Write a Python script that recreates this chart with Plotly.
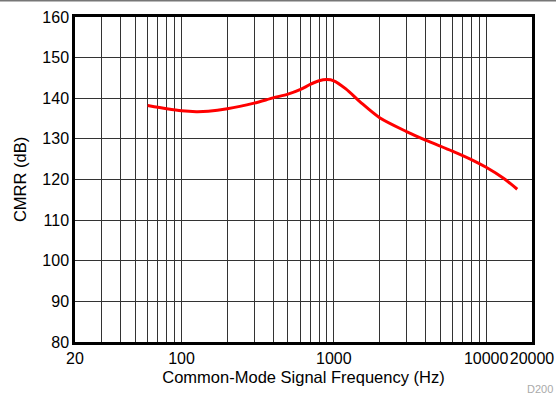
import plotly.graph_objects as go

freq_hz = [60, 80, 100, 125, 150, 200, 300, 400, 500, 600, 700, 800, 900, 1000,
           1200, 1500, 2000, 3000, 4000, 6000, 8000, 10000, 13000, 16000]
cmrr_db = [138.2, 137.4, 136.9, 136.7, 136.8, 137.4, 138.8, 140.1, 141.0, 142.1,
           143.4, 144.3, 144.6, 144.3, 142.3, 139.0, 135.2, 131.8, 129.7, 127.0,
           124.9, 123.0, 120.3, 117.6]

x_tickvals = [20, 100, 1000, 10000, 20000]
x_ticktext = ["20", "100", "1000", "10000", "20000"]
x_gridvals = [20, 30, 40, 50, 60, 70, 80, 90, 100, 200, 300, 400, 500, 600, 700, 800, 900,
              1000, 2000, 3000, 4000, 5000, 6000, 7000, 8000, 9000, 10000, 20000]
y_tickvals = [80, 90, 100, 110, 120, 130, 140, 150, 160]

FONT = "Liberation Sans, Arial, Helvetica, sans-serif"

L, R, T, B = 75, 24, 17, 55
W, H = 556, 397
PW, PH = W - L - R, H - T - B

def px_x(p):
    return (p - L) / PW

def px_y(p):
    return (H - B - p) / PH

fig = go.Figure()
fig.add_trace(go.Scatter(x=freq_hz, y=cmrr_db, mode="lines",
                         line=dict(color="#ff0000", width=3, shape="spline", smoothing=0.8),
                         hoverinfo="skip", showlegend=False))

fig.update_layout(
    width=W, height=H,
    margin=dict(l=L, r=R, t=T, b=B, autoexpand=False),
    paper_bgcolor="white", plot_bgcolor="white",
    font=dict(family=FONT, size=16, color="black"),
    xaxis=dict(type="log", range=[1.30103, 4.30103],
               tickvals=x_gridvals,
               ticktext=[x_ticktext[x_tickvals.index(v)] if v in x_tickvals else "" for v in x_gridvals],
               tickangle=0,
               showgrid=True, gridcolor="#333", gridwidth=1,
               showline=True, linecolor="black", linewidth=2.5, mirror=True,
               ticks="", zeroline=False, automargin=False,
               title=dict(text="Common-Mode Signal Frequency (Hz)", standoff=6,
                          font=dict(size=16.5)),
               tickfont=dict(size=16)),
    yaxis=dict(range=[80, 160], tickvals=y_tickvals,
               showgrid=True, gridcolor="#333", gridwidth=1,
               showline=True, linecolor="black", linewidth=2.5, mirror=True,
               ticks="", zeroline=False, automargin=False,
               title=dict(text="CMRR (dB)", standoff=12, font=dict(size=16.5)),
               tickfont=dict(size=16)),
    shapes=[dict(type="line", xref="paper", yref="paper",
                 x0=px_x(0), x1=px_x(W), y0=px_y(0.75), y1=px_y(0.75),
                 line=dict(color="#777", width=1.5))],
    annotations=[dict(text="D200", xref="paper", yref="paper",
                      x=px_x(555), y=px_y(389), xanchor="right", yanchor="middle",
                      showarrow=False, font=dict(size=11, color="#aaa"))],
)

fig.write_html("out.html", config={"displayModeBar": False},
               post_script="document.body.style.margin='0';")
